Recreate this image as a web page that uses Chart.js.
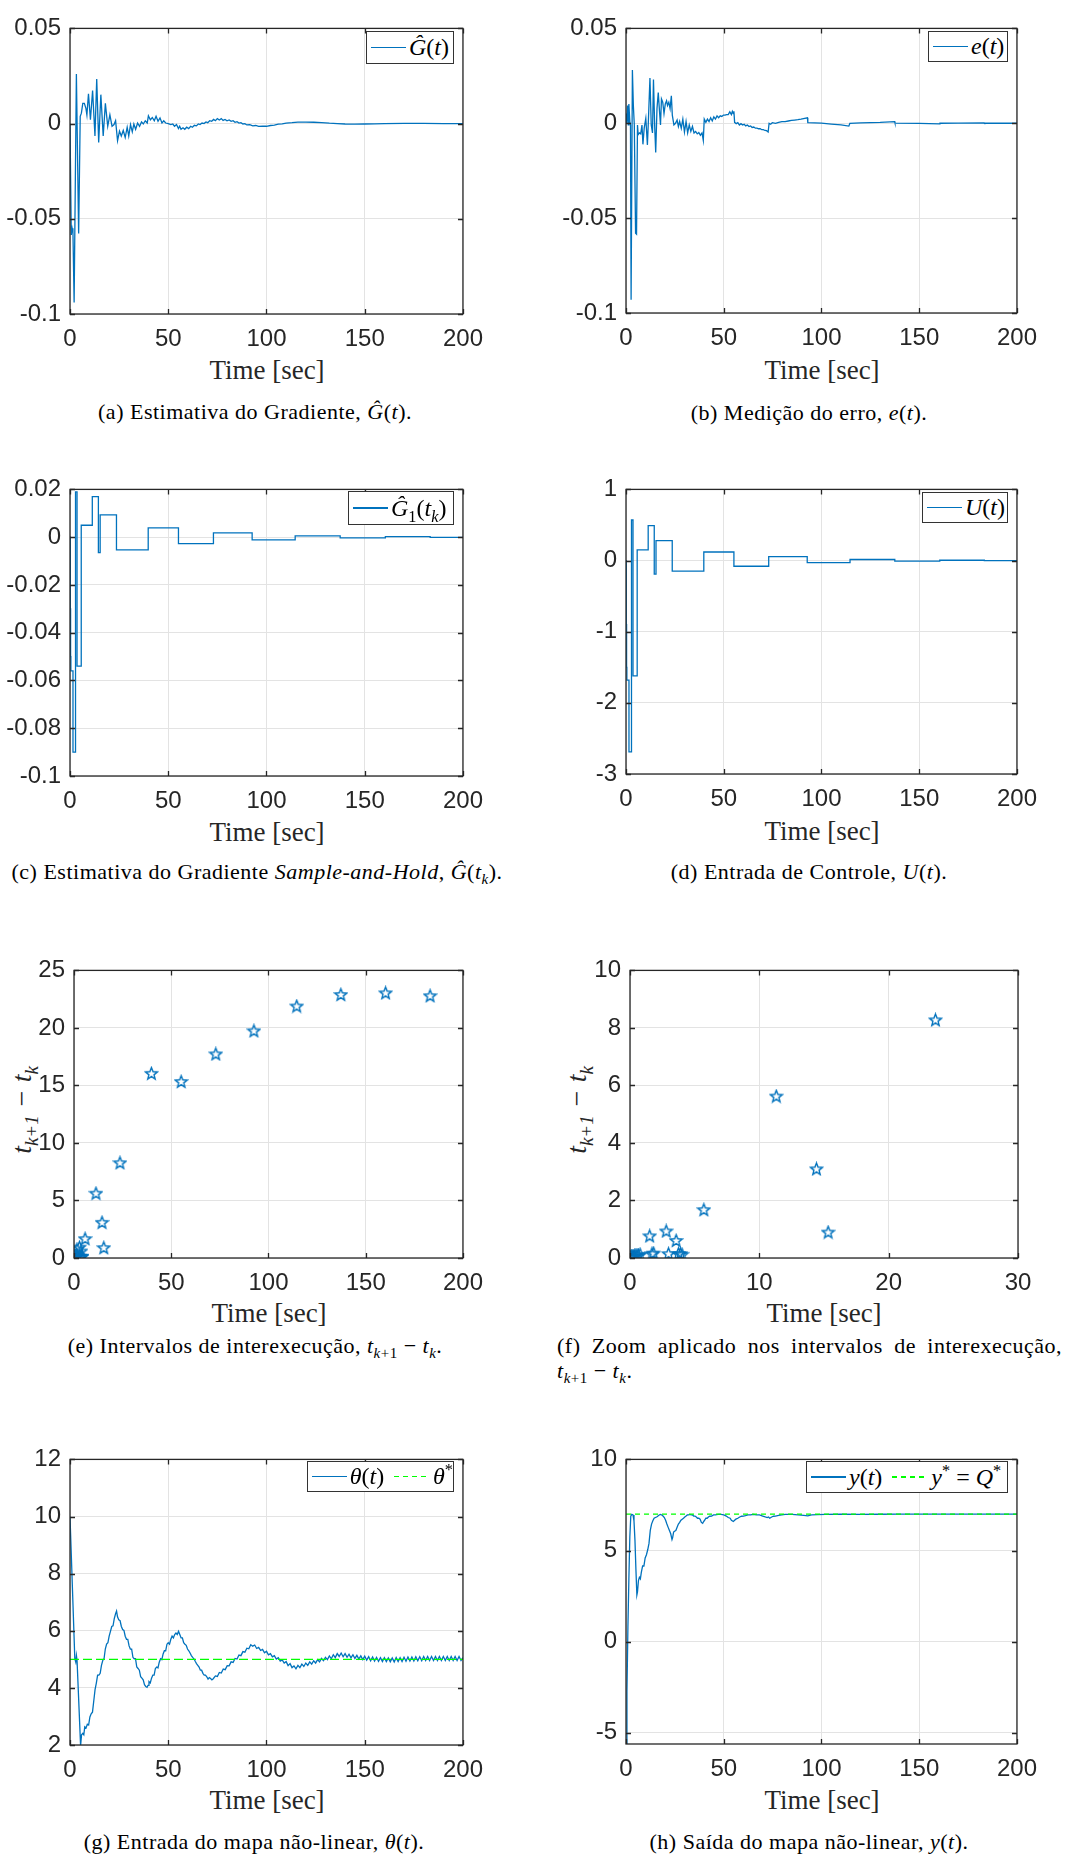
<!DOCTYPE html>
<html>
<head>
<meta charset="utf-8">
<script src="https://cdn.jsdelivr.net/npm/chart.js@4.4.1/dist/chart.umd.min.js"></script>
<style>
  body { margin: 0; width: 1091px; height: 1854px; position: relative; background: #fff; overflow: hidden; }
  canvas { position: absolute; }
  .xl { position: absolute; font: 27px 'Liberation Serif', serif; color: #262626; transform: translate(-50%, -50%); white-space: nowrap; }
  .yl { position: absolute; font: italic 28px 'Liberation Serif', serif; color: #262626; transform: translate(-50%, -50%) rotate(-90deg); white-space: nowrap; }
  .cap { position: absolute; font: 22px 'Liberation Serif', serif; color: #000; letter-spacing: 0.5px; transform: translate(-50%, -50%); white-space: nowrap; }
  .capf { position: absolute; font: 22px 'Liberation Serif', serif; color: #000; letter-spacing: 0.5px; width: 505px; }
  .lg { position: absolute; z-index: 2; background: #fff; border: 1px solid #333; box-sizing: border-box; display: flex; align-items: center; padding-left: 4px; font: 24px 'Liberation Serif', serif; color: #000; white-space: nowrap; }
  .ls { display: inline-block; width: 35px; height: 1.3px; background: #0072BD; margin-right: 3px; }
  .ld { display: inline-block; width: 35px; height: 1.3px; margin: 0 4px 0 10px; background: repeating-linear-gradient(90deg, #00ff00 0 5px, transparent 5px 9px); }
  sub, sup { font-size: 0.68em; line-height: 0; }
</style>
</head>
<body>

<div class="lg" style="left:366px;top:31px;width:88px;height:33px"><span class="ls"></span><span><i>Ĝ</i>(<i>t</i>)</span></div>
<div class="lg" style="left:928px;top:31px;width:80px;height:31px"><span class="ls"></span><span><i>e</i>(<i>t</i>)</span></div>
<div class="lg" style="left:348px;top:491px;width:106px;height:34px"><span class="ls"></span><span><i>Ĝ</i><sub>1</sub>(<i>t<sub>k</sub></i>)</span></div>
<div class="lg" style="left:922px;top:492px;width:86px;height:31px"><span class="ls"></span><span><i>U</i>(<i>t</i>)</span></div>
<div class="lg" style="left:307px;top:1461px;width:147px;height:31px"><span class="ls"></span><span><i>θ</i>(<i>t</i>)</span><span class="ld"></span><span><i>θ</i><sup>*</sup></span></div>
<div class="lg" style="left:806px;top:1461px;width:202px;height:32px"><span class="ls"></span><span><i>y</i>(<i>t</i>)</span><span class="ld"></span><span><i>y</i><sup>*</sup> = <i>Q</i><sup>*</sup></span></div>

<div class="xl" style="left:267px;top:370px">Time [sec]</div>
<div class="xl" style="left:822px;top:370px">Time [sec]</div>
<div class="xl" style="left:267px;top:832px">Time [sec]</div>
<div class="xl" style="left:822px;top:831px">Time [sec]</div>
<div class="xl" style="left:269px;top:1313px">Time [sec]</div>
<div class="xl" style="left:824px;top:1313px">Time [sec]</div>
<div class="xl" style="left:267px;top:1800px">Time [sec]</div>
<div class="xl" style="left:822px;top:1800px">Time [sec]</div>

<div class="yl" style="left:22px;top:1110px"><i>t</i><sub><i>k</i>+1</sub> − <i>t</i><sub><i>k</i></sub></div>
<div class="yl" style="left:577px;top:1110px"><i>t</i><sub><i>k</i>+1</sub> − <i>t</i><sub><i>k</i></sub></div>

<div class="cap" style="left:255px;top:412px">(a) Estimativa do Gradiente, <i>Ĝ</i>(<i>t</i>).</div>
<div class="cap" style="left:809px;top:413px">(b) Medição do erro, <i>e</i>(<i>t</i>).</div>
<div class="cap" style="left:257px;top:872px">(c) Estimativa do Gradiente <i>Sample-and-Hold</i>, <i>Ĝ</i>(<i>t<sub>k</sub></i>).</div>
<div class="cap" style="left:809px;top:872px">(d) Entrada de Controle, <i>U</i>(<i>t</i>).</div>
<div class="cap" style="left:255px;top:1346px">(e) Intervalos de interexecução, <i>t</i><sub><i>k</i>+1</sub> − <i>t</i><sub><i>k</i></sub>.</div>
<div class="capf" style="left:557px;top:1333px;text-align:justify;text-align-last:justify">(f) Zoom aplicado nos intervalos de interexecução,</div>
<div class="capf" style="left:557px;top:1358px"><i>t</i><sub><i>k</i>+1</sub> − <i>t</i><sub><i>k</i></sub>.</div>
<div class="cap" style="left:254px;top:1842px">(g) Entrada do mapa não-linear, <i>θ</i>(<i>t</i>).</div>
<div class="cap" style="left:809px;top:1842px">(h) Saída do mapa não-linear, <i>y</i>(<i>t</i>).</div>

<script>
// ---- data ----
const timeTicks = [0, 50, 100, 150, 200];
const timeLabels = ['0', '50', '100', '150', '200'];
const zoomTicks = [0, 10, 20, 30];
const zoomLabels = ['0', '10', '20', '30'];

const gradTicks = [-0.1, -0.05, 0, 0.05];
const gradLabels = ['-0.1', '-0.05', '0', '0.05'];
const holdTicks = [-0.1, -0.08, -0.06, -0.04, -0.02, 0, 0.02];
const holdLabels = ['-0.1', '-0.08', '-0.06', '-0.04', '-0.02', '0', '0.02'];
const ctrlTicks = [-3, -2, -1, 0, 1];
const ctrlLabels = ['-3', '-2', '-1', '0', '1'];
const intTicks = [0, 5, 10, 15, 20, 25];
const intLabels = ['0', '5', '10', '15', '20', '25'];
const intZoomTicks = [0, 2, 4, 6, 8, 10];
const intZoomLabels = ['0', '2', '4', '6', '8', '10'];
const thetaTicks = [2, 4, 6, 8, 10, 12];
const thetaLabels = ['2', '4', '6', '8', '10', '12'];
const outTicks = [-5, 0, 5, 10];
const outLabels = ['-5', '0', '5', '10'];

// (a) gradient estimate G(t)
const gradHat = [
  [0,0],[0.65,-0.0585],[1.1,-0.055],[1.5,-0.057],[2.1,-0.094],[3.25,0.026],[4.4,-0.0577],[5.2,0.0038],
  [5.8,0.0055],[6.5,0.0106],[7.3,0.0106],[8.1,0.008],[8.6,0.0046],[9.4,0.0157],[10.4,0.002],[11.5,0.0174],
  [12.7,-0.0065],[13.6,0.0234],[14.6,-0.0099],[15.7,0.0152],[16.9,-0.0065],[18,0.0106],[19.2,-0.0014],
  [20.3,0.0046],[21.4,-0.0014],[22.4,-0.0005],[23.2,0.0015],[24.2,-0.009],[25.2,-0.004],[26.1,-0.0065],
  [27.1,-0.0036],[28.1,-0.0073],[29.1,-0.0019],[29.9,-0.0065],[30.8,-0.0005],[31.7,-0.0043],[32.5,-0.0002],
  [33.4,-0.003],[34.4,0.0003],[35.4,-0.0014],[36.4,0.0009],[37.3,-0.0002],[38.3,0.0015],[39.3,0.0003],
  [39.9,0.0041],[40.9,0.002],[41.9,0.0032],[42.9,0.0015],[43.8,0.0038],[44.8,0.0012],[45.8,0.003],
  [46.8,0.0003],[47.7,0.0015],[48.7,0.0003],[50,0],[51.3,-0.0005],[52.3,-0.0002],[53.2,-0.0014],
  [54.2,-0.0005],[55.2,-0.0026],[55.8,-0.0014],[56.5,-0.003],[57.5,-0.0022],[58.4,-0.003],[59.4,-0.0019],
  [60.4,-0.0026],[61.4,-0.0014],[62.3,-0.0019],[63.3,-0.0009],[64.3,-0.0012],[65.3,-0.0002],[66.2,-0.0005],
  [67.2,0.0003],[68.2,0],[69.2,0.0009],[70.1,0.0005],[71.1,0.0015],[72.1,0.0012],[73.1,0.0022],[74,0.0015],
  [75,0.0026],[76,0.0019],[77,0.0026],[77.9,0.0017],[78.9,0.0022],[79.9,0.0015],[81,0.0019],[82,0.0012],
  [83,0.0015],[84,0.0007],[85,0.001],[86,0.0003],[87,0.0005],[88,-0.0002],[89,0],[90,-0.0007],
  [91.5,-0.0005],[93,-0.0012],[94.5,-0.001],[96,-0.0015],[98,-0.0013],[100,-0.0014],[102,-0.001],
  [104,-0.0008],[106,-0.0003],[108,-0.0001],[110,0.0003],[113,0.0005],[116,0.0008],[120,0.0008],
  [124,0.0007],[128,0.0005],[132,0.0002],[136,0],[140,-0.0002],[145,-0.0003],[150,-0.0002],[155,-0.0001],
  [160,0],[170,0.0001],[180,0.0001],[190,0],[200,0]
];

// (b) error e(t)
const errMeas = [
  [0,0.0051],[0.33,0],[0.82,0.0094],[1.14,-0.0009],[1.47,0.0102],[1.96,0.0009],[2.29,-0.0009],[2.61,-0.093],
  [3.27,0.0281],[3.76,0.0094],[4.25,-0.0009],[4.9,-0.058],[5.39,-0.0585],[5.88,-0.0009],[6.21,-0.006],
  [6.86,-0.0051],[7.52,-0.0056],[8.17,-0.0009],[8.66,-0.0111],[9.31,-0.0026],[10.13,0.0026],[10.95,-0.0114],
  [11.44,0.0009],[12.25,0.0239],[12.91,-0.0009],[13.56,-0.0051],[14.05,0.023],[14.71,-0.0026],[15.2,-0.0154],
  [15.85,0.0077],[16.5,0.0162],[17.16,0.006],[17.65,-0.0009],[18.14,0.0128],[18.79,0.0111],[19.44,0.0051],
  [20.1,0.0102],[20.75,0.0119],[21.24,0.0094],[21.9,0.0111],[22.55,0.0077],[23.2,0.0145],[23.69,0.0043],
  [24.5,-0.0009],[25.33,0],[26.14,0.0017],[26.8,-0.0017],[27.45,0.0009],[28.27,-0.0026],[29.08,0.0022],
  [29.9,-0.0046],[30.72,0.0009],[31.54,-0.0051],[32.35,-0.0009],[33.17,-0.0043],[33.99,-0.0017],
  [34.8,-0.0051],[35.62,-0.0043],[36.44,-0.0056],[37.25,-0.0049],[38.07,-0.0063],[38.89,-0.0051],
  [39.54,-0.009],[40.03,0.0022],[40.85,0.0005],[41.67,0.0022],[42.48,0.0009],[43.3,0.0029],[44.12,0.0012],
  [44.93,0.0034],[45.75,0.0022],[46.57,0.0039],[47.39,0.0029],[48.2,0.0039],[49.02,0.0036],[49.84,0.0043],
  [50.65,0.0043],[51.47,0.0046],[52.29,0.0046],[53.1,0.006],[53.92,0.0046],[54.41,0.0063],[54.9,0.0051],
  [55.2,0.0063],[55.56,0.0005],[56.37,-0.0002],[57.19,0.0003],[58,-0.0009],[58.82,-0.0002],[59.64,-0.0009],
  [60.46,-0.0005],[61.27,-0.0014],[62.09,-0.0009],[62.91,-0.0017],[63.73,-0.0014],[64.54,-0.0022],
  [65.36,-0.002],[66.18,-0.0026],[67,-0.0026],[67.81,-0.0029],[68.63,-0.0029],[69.44,-0.0034],
  [70.26,-0.0034],[71.08,-0.0038],[71.9,-0.0039],[72.71,-0.0046],[73,-0.0046],[73.2,0],[74,-0.0005],
  [74.84,0.0003],[76.47,0],[78.1,0.0005],[79.74,0.0009],[81.37,0.0009],[83,0.0012],[84.64,0.0015],
  [86.27,0.0017],[87.9,0.0019],[89.54,0.0022],[92.8,0.0029],[93,0.0003],[100,0.0001],[105,-0.0004],
  [110,-0.0009],[114,-0.0015],[114.5,0],[120,0.0002],[130,0.0005],[137.4,0.0009],[137.6,0.0001],
  [150,-0.0001],[160.4,-0.0003],[160.6,0],[170,0.0001],[183.2,0.0002],[183.4,0],[200,0]
];

// (c), (d) sample-and-hold: event times, held gradient and control
const holdTimes = [0, 0.15, 0.3, 0.45, 0.6, 0.75, 1.52, 1.68, 1.84, 2.81, 2.97, 3.58, 3.74, 3.9, 4.04,
  5.72, 11.35, 14.45, 15.35, 23.65, 39.8, 55.2, 73.0, 92.7, 114.6, 137.5, 160.5, 183.3, 200];
const gradHold = [0, -0.03, -0.05, -0.056, -0.056, -0.056, -0.09, -0.09, -0.09, 0.019, 0.019, -0.054,
  -0.054, -0.054, -0.054, 0.005, 0.017, -0.0065, 0.0093, -0.0053, 0.0039, -0.0027, 0.0018, -0.0011,
  0.0005, -0.0003, 0.0002, -0.0001, -0.0001];
const ctrlHold = [0, -0.9, -1.5, -1.68, -1.68, -1.68, -2.69, -2.69, -2.69, 0.57, 0.57, -1.62, -1.62,
  -1.62, -1.62, 0.15, 0.49, -0.19, 0.28, -0.15, 0.12, -0.08, 0.055, -0.03, 0.015, -0.008, 0.004,
  -0.002, -0.002];

// (e), (f) inter-execution intervals, plotted against t_{k+1}
const tNext = [0.03, 0.08, 0.12, 0.17, 0.22, 0.28, 0.35, 0.45, 0.55, 0.65, 0.78, 1.52, 1.70, 1.83, 2.80,
  2.98, 3.57, 3.75, 3.90, 4.03, 5.71, 11.31, 14.42, 15.32, 23.62, 39.8, 55.1, 72.9, 92.5, 114.5, 137.2,
  160.2, 183.1];
const interval = [0.03, 0.05, 0.04, 0.05, 0.05, 0.06, 0.07, 0.1, 0.1, 0.1, 0.13, 0.77, 0.15, 0.17, 0.94,
  0.15, 0.61, 0.15, 0.15, 0.13, 1.68, 5.63, 3.10, 0.90, 8.28, 16.05, 15.34, 17.74, 19.75, 21.9, 22.9,
  23.05, 22.8];

// (g) map input theta(t) and optimum
const theta = [
  [0,10],[2.45,5.02],[2.94,4.9],[3.27,5.13],[3.59,4.96],[5.39,1.98],[5.88,2.36],[6.54,2.41],[7.03,2.36],
  [7.52,2.64],[8.17,2.6],[8.82,2.73],[9.48,2.7],[10.13,2.98],[10.78,3.09],[11.44,3.15],[12.09,3.54],
  [12.75,3.94],[13.4,4.17],[14.05,4.45],[14.71,4.45],[15.36,4.51],[16.01,4.79],[16.67,4.96],[17.32,5.02],
  [17.97,5.36],[18.63,5.53],[19.28,5.58],[19.93,5.81],[20.59,5.98],[21.24,6.15],[21.9,6.17],[22.55,6.43],
  [23.2,6.6],[23.69,6.69],[24.18,6.49],[24.84,6.38],[25.49,6.35],[26.14,6.15],[26.8,6.04],[27.45,6.01],
  [28.1,5.81],[28.76,5.7],[29.41,5.7],[30.07,5.47],[30.72,5.36],[31.37,5.36],[32.03,5.07],[32.68,5.02],
  [33.33,5.02],[33.99,4.73],[34.64,4.68],[35.29,4.62],[35.95,4.39],[36.6,4.34],[37.25,4.28],[37.91,4.11],
  [38.56,4.05],[39.22,4.02],[39.71,4.09],[40.2,4.22],[40.85,4.17],[41.5,4.34],[42.16,4.45],[42.81,4.45],
  [43.46,4.68],[44.12,4.73],[44.77,4.7],[45.42,4.9],[46.08,5.02],[46.73,4.99],[47.39,5.19],[48.04,5.3],
  [48.69,5.3],[49.35,5.53],[50,5.58],[50.65,5.53],[51.31,5.7],[51.96,5.81],[52.61,5.75],[53.27,5.87],
  [53.92,5.92],[54.58,5.87],[55.23,5.98],[55.88,5.87],[56.54,5.75],[57.19,5.75],[57.84,5.58],[58.5,5.53],
  [59.15,5.49],[59.8,5.36],[60.46,5.3],[61.11,5.22],[61.76,5.13],[62.42,5.07],[63.07,5.02],[63.73,4.93],
  [64.38,4.85],[65.03,4.79],[65.69,4.73],[66.34,4.62],[66.99,4.62],[67.65,4.51],[68.3,4.45],[68.95,4.45],
  [69.61,4.39],[70.26,4.31],[70.92,4.36],[71.57,4.33],[72.22,4.28],[72.9,4.32],
  [74,4.42],[75,4.40],[76,4.54],[77,4.52],[78,4.66],[79,4.64],[80,4.78],[81,4.77],[82,4.91],[83,4.89],
  [84,5.03],[85,5.01],[86,5.15],[87,5.13],[88,5.27],[89,5.25],[90,5.39],[91,5.37],[92,5.51],[93,5.46],
  [94,5.50],[95,5.38],[96,5.42],[97,5.31],[98,5.35],[99,5.23],[100,5.28],[101,5.16],[102,5.20],[103,5.09],
  [104,5.13],[105,5.01],[106,5.06],[107,4.94],[108,4.98],[109,4.87],[110,4.92],[111,4.78],[112,4.85],
  [113,4.71],[114,4.77],[115,4.67],[116,4.79],[117,4.71],[118,4.83],[119,4.75],[120,4.87],[121,4.79],
  [122,4.91],[123,4.83],[124,4.95],[125,4.87],[126,4.99],[127,4.91],[128,5.03],[129,4.95],[130,5.07],
  [131,4.99],[132,5.12],[133,5.02],[134,5.16],[135,5.06],[136,5.20],[137,5.10],[138,5.22],[139,5.09],
  [140,5.20],[141,5.07],[142,5.18],[143,5.05],[144,5.16],[145,5.03],[146,5.14],[147,5.01],[148,5.12],
  [149,4.99],[150,5.11],[151,4.97],[152,5.09],[153,4.95],[154,5.08],[155,4.94],[156,5.07],[157,4.93],
  [158,5.06],[159,4.92],[160,5.06],[161,4.92],[162,5.05],[163,4.91],[164,5.05],[165,4.91],[166,5.06],
  [167,4.92],[168,5.06],[169,4.92],[170,5.07],[171,4.93],[172,5.08],[173,4.94],[174,5.08],[175,4.94],
  [176,5.09],[177,4.95],[178,5.09],[179,4.95],[180,5.10],[181,4.96],[182,5.10],[183,4.96],[184,5.10],
  [185,4.96],[186,5.10],[187,4.96],[188,5.10],[189,4.96],[190,5.10],[191,4.96],[192,5.10],[193,4.96],
  [194,5.10],[195,4.96],[196,5.10],[197,4.96],[198,5.10],[199,4.96],[200,5.06]
];
const thetaStar = [[0,5],[200,5]];

// (h) map output y(t) and optimum
const outY = [
  [0,-5.58],[0.49,-2.75],[0.98,0.79],[1.47,3.44],[1.96,5.74],[2.45,6.89],[2.94,6.98],[3.59,6.95],[4.08,6.63],
  [4.58,5.57],[5.07,3.97],[5.56,2.56],[5.88,2.73],[6.37,3.35],[6.86,3.53],[7.35,3.44],[7.84,3.8],[8.5,4.15],
  [9.15,4.15],[9.8,4.59],[10.46,4.77],[11.11,5.04],[11.76,5.39],[12.42,6.1],[13.07,6.45],[13.73,6.63],
  [14.38,6.77],[15.03,6.81],[15.69,6.84],[16.34,6.89],[16.99,6.95],[17.65,6.98],[18.3,6.95],[18.95,6.89],
  [19.61,6.81],[20.26,6.66],[20.92,6.45],[21.57,6.27],[22.22,6.1],[22.88,5.92],[23.53,5.6],[23.86,5.71],
  [24.35,6.01],[24.84,6.06],[25.49,6.1],[26.14,6.27],[26.8,6.45],[27.45,6.54],[28.1,6.66],[28.76,6.72],
  [29.41,6.77],[30.07,6.84],[30.72,6.89],[31.37,6.95],[32.03,6.95],[32.68,6.98],[33.33,6.95],[33.99,6.95],
  [34.64,6.89],[35.29,6.89],[35.95,6.84],[36.6,6.77],[37.25,6.77],[37.91,6.72],[38.56,6.54],[39.22,6.49],
  [39.71,6.59],[40.2,6.66],[40.85,6.77],[41.5,6.77],[42.16,6.84],[42.81,6.88],[43.79,6.89],[44.77,6.95],
  [45.75,6.95],[47.06,6.98],[48.69,6.98],[50,6.95],[51.31,6.89],[52.29,6.81],[53.27,6.77],[53.92,6.66],
  [54.9,6.59],[55.56,6.66],[56.21,6.72],[57.19,6.77],[58.17,6.84],[59.15,6.88],[60.13,6.89],[61.11,6.91],
  [62.42,6.95],[63.73,6.95],[65.03,6.98],[66.67,6.95],[68.3,6.95],[69.93,6.89],[71.24,6.84],[72.22,6.81],
  [72.88,6.84],[73.53,6.77],[74.51,6.84],[75.49,6.88],[76.47,6.89],[78.1,6.93],[79.74,6.95],[81.37,6.98],
  [85,6.98],[88,6.96],[91,6.93],[93,6.9],[95,6.95],[98,6.97],[102,6.98],[110,6.99],[120,6.98],[130,6.99],
  [140,7],[160,7],[200,7]
];
const outStar = [[0,7],[200,7]];

// ---- layout of the eight axes boxes: [left, top, right, bottom] ----
const boxes = {
  a: [70, 21, 464, 314], b: [626, 21, 1018, 313],
  c: [70, 482, 464, 776], d: [626, 482, 1018, 774],
  e: [74, 963, 464, 1258], f: [630, 963, 1018, 1258],
  g: [70, 1452, 464, 1745], h: [626, 1452, 1018, 1744]
};

const BLUE = '#0072BD';
const GREEN = '#00ff00';

const pairs = arr => arr.map(p => ({ x: p[0], y: p[1] }));
const zip = (xs, ys) => xs.map((x, i) => ({ x: x, y: ys[i] }));

// matlab-like box with inward ticks
const boxPlugin = {
  id: 'matBox',
  afterDraw(chart) {
    const { ctx, chartArea: a, scales } = chart;
    ctx.save();
    ctx.strokeStyle = '#262626';
    ctx.lineWidth = 1.3;
    ctx.beginPath();
    scales.x.ticks.forEach(t => {
      const px = Math.round(scales.x.getPixelForValue(t.value)) + 0.5;
      ctx.moveTo(px, a.bottom); ctx.lineTo(px, a.bottom - 5);
      ctx.moveTo(px, a.top); ctx.lineTo(px, a.top + 5);
    });
    scales.y.ticks.forEach(t => {
      const py = Math.round(scales.y.getPixelForValue(t.value)) + 0.5;
      ctx.moveTo(a.left, py); ctx.lineTo(a.left + 5, py);
      ctx.moveTo(a.right, py); ctx.lineTo(a.right - 5, py);
    });
    ctx.stroke();
    ctx.strokeRect(a.left, a.top, a.right - a.left, a.bottom - a.top);
    ctx.restore();
  }
};

function axis(dir, min, max, ticks, labels) {
  return {
    type: 'linear', min: min, max: max,
    afterBuildTicks: sc => { sc.ticks = ticks.map(v => ({ value: v })); },
    afterFit: sc => { if (dir === 'x') sc.height = 44; else sc.width = 70; },
    grid: { color: '#e3e3e3', lineWidth: 1, drawTicks: false },
    border: { display: false },
    ticks: {
      autoSkip: false, maxRotation: 0, padding: dir === 'x' ? 11 : 9, color: '#262626',
      font: { family: "'Liberation Sans', Arial, sans-serif", size: 24 },
      callback: v => labels[ticks.indexOf(v)]
    }
  };
}

function makeChart(key, type, datasets, xs, ys) {
  const [L, T, R, B] = boxes[key];
  const cv = document.createElement('canvas');
  cv.width = R - L + 100;
  cv.height = B - T + 60;
  cv.style.left = (L - 70) + 'px';
  cv.style.top = (T - 16) + 'px';
  document.body.appendChild(cv);
  return new Chart(cv, {
    type: type,
    data: { datasets: datasets },
    options: {
      responsive: false, animation: false, devicePixelRatio: 1,
      layout: { padding: { left: 0, top: 16, right: 30, bottom: 0 } },
      plugins: { legend: { display: false }, tooltip: { enabled: false } },
      elements: { point: { radius: 0 }, line: { borderWidth: 1.3, tension: 0 } },
      scales: { x: xs, y: ys }
    },
    plugins: [boxPlugin]
  });
}

function starMarker() {
  const c = document.createElement('canvas');
  c.width = 15; c.height = 15;
  const g = c.getContext('2d');
  g.strokeStyle = BLUE; g.lineWidth = 1.4;
  g.beginPath();
  for (let k = 0; k < 10; k++) {
    const r = k % 2 ? 2.7 : 6.3;
    const ang = -Math.PI / 2 + k * Math.PI / 5;
    const px = 7.5 + r * Math.cos(ang), py = 8 + r * Math.sin(ang);
    if (k) g.lineTo(px, py); else g.moveTo(px, py);
  }
  g.closePath(); g.stroke();
  return c;
}
const star = starMarker();

const line = (data, extra) => Object.assign({ data: data, borderColor: BLUE, pointRadius: 0, fill: false }, extra || {});

makeChart('a', 'line', [line(pairs(gradHat))],
  axis('x', 0, 200, timeTicks, timeLabels), axis('y', -0.1, 0.05, gradTicks, gradLabels));
makeChart('b', 'line', [line(pairs(errMeas))],
  axis('x', 0, 200, timeTicks, timeLabels), axis('y', -0.1, 0.05, gradTicks, gradLabels));
makeChart('c', 'line', [line(zip(holdTimes, gradHold), { stepped: 'before' })],
  axis('x', 0, 200, timeTicks, timeLabels), axis('y', -0.1, 0.02, holdTicks, holdLabels));
makeChart('d', 'line', [line(zip(holdTimes, ctrlHold), { stepped: 'before' })],
  axis('x', 0, 200, timeTicks, timeLabels), axis('y', -3, 1, ctrlTicks, ctrlLabels));

const scatterSet = () => ({
  data: zip(tNext, interval), showLine: false, pointStyle: star, pointRadius: 6,
  borderColor: BLUE, backgroundColor: BLUE
});
makeChart('e', 'scatter', [scatterSet()],
  axis('x', 0, 200, timeTicks, timeLabels), axis('y', 0, 25, intTicks, intLabels));
makeChart('f', 'scatter', [scatterSet()],
  axis('x', 0, 30, zoomTicks, zoomLabels), axis('y', 0, 10, intZoomTicks, intZoomLabels));

makeChart('g', 'line', [
  line(pairs(theta), { order: 1 }),
  line(pairs(thetaStar), { borderColor: GREEN, borderDash: [9, 4], borderWidth: 1.3, order: 0 })
], axis('x', 0, 200, timeTicks, timeLabels), axis('y', 2, 12, thetaTicks, thetaLabels));
makeChart('h', 'line', [
  line(pairs(outY), { order: 1 }),
  line(pairs(outStar), { borderColor: GREEN, borderDash: [5, 4], borderWidth: 1.3, order: 0 })
], axis('x', 0, 200, timeTicks, timeLabels), axis('y', -5.62, 10, outTicks, outLabels));
</script>
</body>
</html>
